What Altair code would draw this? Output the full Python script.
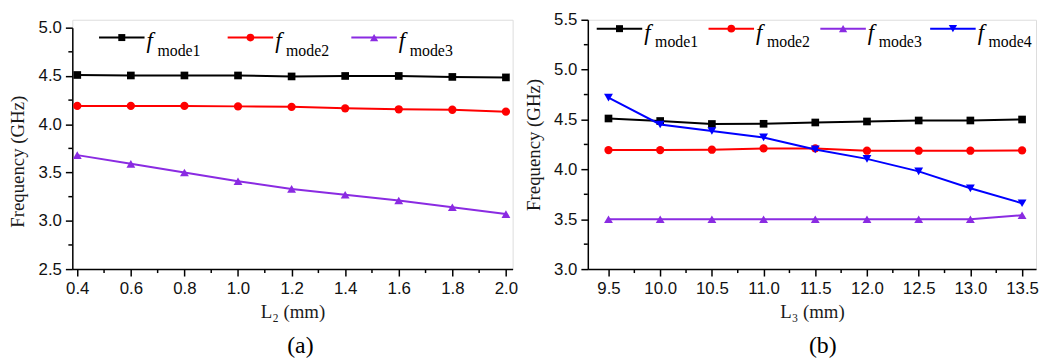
import altair as alt
import pandas as pd

# ---------------- data ----------------
L2 = [0.4, 0.6, 0.8, 1.0, 1.2, 1.4, 1.6, 1.8, 2.0]
a_mode1 = [4.51, 4.505, 4.505, 4.505, 4.495, 4.50, 4.50, 4.49, 4.485]
a_mode2 = [4.19, 4.19, 4.19, 4.185, 4.18, 4.165, 4.155, 4.15, 4.13]
a_mode3 = [3.68, 3.59, 3.50, 3.41, 3.33, 3.27, 3.21, 3.14, 3.07]

L3 = [9.5, 10.0, 10.5, 11.0, 11.5, 12.0, 12.5, 13.0, 13.5]
b_mode1 = [4.51, 4.485, 4.455, 4.457, 4.47, 4.48, 4.49, 4.49, 4.50]
b_mode2 = [4.193, 4.193, 4.197, 4.21, 4.21, 4.187, 4.187, 4.187, 4.19]
b_mode3 = [3.50, 3.50, 3.50, 3.50, 3.50, 3.50, 3.50, 3.50, 3.54]
b_mode4 = [4.72, 4.45, 4.385, 4.32, 4.20, 4.105, 3.98, 3.81, 3.66]

series_names = ["mode1", "mode2", "mode3", "mode4"]
a_ticks_x = [0.4, 0.6, 0.8, 1.0, 1.2, 1.4, 1.6, 1.8, 2.0]
a_minor_x = [0.5, 0.7, 0.9, 1.1, 1.3, 1.5, 1.7, 1.9]
a_ticks_y = [2.5, 3.0, 3.5, 4.0, 4.5, 5.0]
a_minor_y = [2.75, 3.25, 3.75, 4.25, 4.75]
b_ticks_x = [9.5, 10.0, 10.5, 11.0, 11.5, 12.0, 12.5, 13.0, 13.5]
b_minor_x = [9.75, 10.25, 10.75, 11.25, 11.75, 12.25, 12.75, 13.25]
b_ticks_y = [3.0, 3.5, 4.0, 4.5, 5.0, 5.5]
b_minor_y = [3.25, 3.75, 4.25, 4.75, 5.25]

# ---------------- style ----------------
SANS = "Arial, Liberation Sans"
SERIF = "Times New Roman, Liberation Serif"
colors = ["#000000", "#ff0000", "#8a2be2", "#0000ff"]
shapes = ["square", "circle", "triangle-up", "triangle-down"]
sizes = [60, 70, 80, 80]


def make_axis(values, title, orient, title_y=None):
    kw = dict(
        values=values, format=".1f", title=title, grid=False,
        domainColor="black", domainWidth=1.5, tickColor="black", tickWidth=1.5,
        tickSize=7, labelFont=SANS, labelFontSize=17, labelColor="#111111",
        titleFont=SERIF, titleFontSize=19, titleFontWeight="normal",
        titleColor="#1a1a1a", labelFlush=False,
    )
    if orient == "left":
        kw.update(labelPadding=4, minExtent=37, maxExtent=37, titlePadding=8)
        if title_y is not None:
            kw["titleY"] = title_y
    else:
        kw.update(labelPadding=5, titlePadding=6)
    return alt.Axis(**kw)


def panel(xvals, ys, xdomain, ydomain, yrange, width, height,
          xticks, xminor, yticks, yminor, xtitle, caption, caption_dx,
          legend_lx, legend_y, title_y=None):
    xs = alt.Scale(domain=xdomain, nice=False, zero=False)
    yscale = alt.Scale(domain=ydomain, range=yrange, nice=False, zero=False)
    xaxis = make_axis(xticks, xtitle, "bottom")
    yaxis = make_axis(yticks, "Frequency (GHz)", "left", title_y)

    layers = []
    # minor ticks
    layers.append(
        alt.Chart(pd.DataFrame({"v": xminor})).mark_rule(color="black", strokeWidth=1.5)
        .encode(x=alt.X("v:Q", scale=xs, axis=xaxis), y=alt.value(height), y2=alt.value(height + 4))
    )
    layers.append(
        alt.Chart(pd.DataFrame({"v": yminor})).mark_rule(color="black", strokeWidth=1.5)
        .encode(y=alt.Y("v:Q", scale=yscale, axis=yaxis), x=alt.value(0), x2=alt.value(-4))
    )
    for i, vals in enumerate(ys):
        df = pd.DataFrame({"x": xvals, "y": vals})
        enc = dict(x=alt.X("x:Q", scale=xs, axis=xaxis), y=alt.Y("y:Q", scale=yscale, axis=yaxis))
        layers.append(alt.Chart(df).mark_line(color=colors[i], strokeWidth=2).encode(**enc))
        layers.append(
            alt.Chart(df).mark_point(shape=shapes[i], filled=True, size=sizes[i],
                                     color=colors[i], opacity=1).encode(**enc)
        )
    # legend
    for i, lx in enumerate(legend_lx):
        ldf = pd.DataFrame({"label": [series_names[i]], "f": ["f"]})
        base = alt.Chart(ldf)
        layers.append(base.mark_rule(color=colors[i], strokeWidth=2).encode(
            x=alt.value(lx), x2=alt.value(lx + 46), y=alt.value(legend_y)))
        layers.append(base.mark_point(shape=shapes[i], filled=True, size=sizes[i] - 10,
                                      color=colors[i], opacity=1).encode(
            x=alt.value(lx + 23), y=alt.value(legend_y)))
        layers.append(base.mark_text(font=SERIF, fontStyle="italic", fontSize=23, align="left",
                                     baseline="alphabetic", color="black").encode(
            text="f:N", x=alt.value(lx + 48), y=alt.value(legend_y + 11)))
        layers.append(base.mark_text(font=SERIF, fontSize=16, align="left",
                                     baseline="alphabetic", color="black").encode(
            text="label:N", x=alt.value(lx + 59), y=alt.value(legend_y + 19)))

    return alt.layer(*layers).properties(
        width=width, height=height,
        title=alt.TitleParams(caption, orient="bottom", font=SERIF, fontSize=24,
                              fontWeight="normal", color="black", offset=13,
                              frame="group", dx=caption_dx),
    )


left = panel(L2, [a_mode1, a_mode2, a_mode3], [0.3815, 2.025], [2.5, 5.0], [252, 8], 445, 252,
             a_ticks_x, a_minor_x, a_ticks_y, a_minor_y, "L\u2082 (mm)", "(a)", 8,
             [27, 157, 282], 18, title_y=143)
right = panel(L3, [b_mode1, b_mode2, b_mode3, b_mode4], [9.3, 13.635], [3.0, 5.5], [252, 0], 453, 252,
              b_ticks_x, b_minor_x, b_ticks_y, b_minor_y, "L\u2083 (mm)", "(b)", 11,
              [9, 122, 235, 346], 9)

chart = alt.hconcat(left, right, spacing=5).properties(
    padding={"left": 0, "top": 0, "right": 0, "bottom": 0}
).configure_view(stroke=None).configure(background="white")

chart.save("out.html", embed_options={"renderer": "svg", "actions": False})
